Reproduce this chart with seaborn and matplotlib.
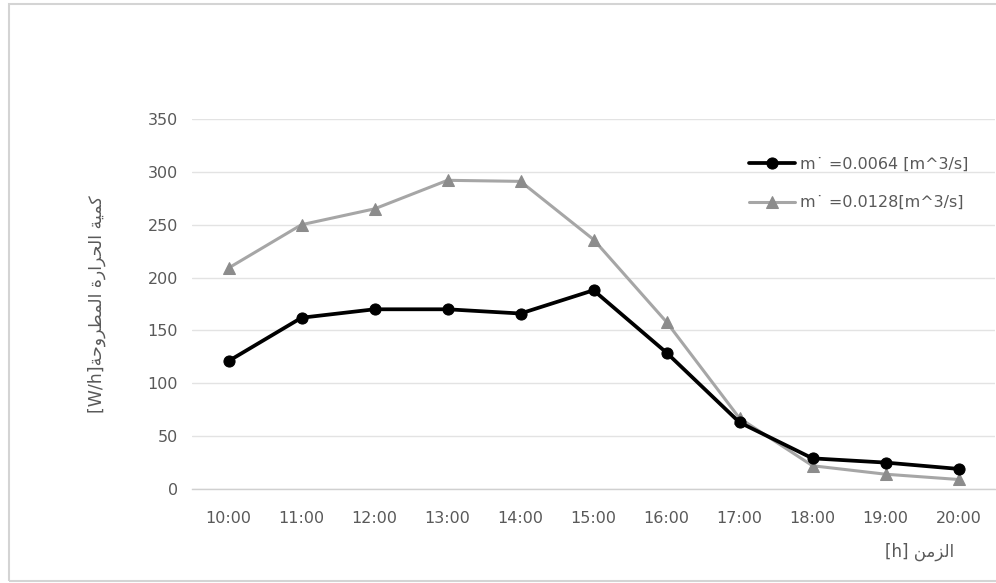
import matplotlib
matplotlib.use("Agg")
import matplotlib.pyplot as plt
import pandas as pd
import seaborn as sns
from matplotlib.patches import Rectangle

# ---- data -------------------------------------------------------------
hours = [10, 11, 12, 13, 14, 15, 16, 17, 18, 19, 20]
tick_labels = [f"{h}:00" for h in hours]
heat_low_flow = [121, 162, 170, 170, 166, 188, 129, 63, 29, 25, 19]
heat_high_flow = [209, 250, 265, 292, 291, 236, 158, 67, 22, 14, 9]
series_names = ["m\u02d9 =0.0064 [m^3/s]", "m\u02d9 =0.0128[m^3/s]"]
y_ticks = [0, 50, 100, 150, 200, 250, 300, 350]
ylabel_ar = "كمية الحرارة المطروحة"
ylabel_unit = "[W/h]"
xlabel_ar = "الزمن"
xlabel_unit = "[h]"

# ---- minimal Arabic shaping (contextual forms + right-to-left order) ---
# char: (isolated, final, initial, medial); None => does not join forward
FORMS = {
    "ك": ("\uFED9", "\uFEDA", "\uFEDB", "\uFEDC"),
    "م": ("\uFEE1", "\uFEE2", "\uFEE3", "\uFEE4"),
    "ي": ("\uFEF1", "\uFEF2", "\uFEF3", "\uFEF4"),
    "ة": ("\uFE93", "\uFE94", None, None),
    "ا": ("\uFE8D", "\uFE8E", None, None),
    "ل": ("\uFEDD", "\uFEDE", "\uFEDF", "\uFEE0"),
    "ح": ("\uFEA1", "\uFEA2", "\uFEA3", "\uFEA4"),
    "ر": ("\uFEAD", "\uFEAE", None, None),
    "ط": ("\uFEC1", "\uFEC2", "\uFEC3", "\uFEC4"),
    "و": ("\uFEED", "\uFEEE", None, None),
    "ز": ("\uFEAF", "\uFEB0", None, None),
    "ن": ("\uFEE5", "\uFEE6", "\uFEE7", "\uFEE8"),
}


def arabic_visual(text):
    out = []
    for i, ch in enumerate(text):
        if ch not in FORMS:
            out.append(ch)
            continue
        prev = text[i - 1] if i > 0 else ""
        nxt = text[i + 1] if i + 1 < len(text) else ""
        joins_prev = prev in FORMS and FORMS[prev][2] is not None
        joins_next = FORMS[ch][2] is not None and nxt in FORMS
        iso, fin, ini, med = FORMS[ch]
        if joins_prev and joins_next:
            out.append(med)
        elif joins_prev:
            out.append(fin)
        elif joins_next:
            out.append(ini)
        else:
            out.append(iso)
    return "".join(reversed(out))


# ---- figure -------------------------------------------------------------
sns.set_theme(style="white")
plt.rcParams["font.family"] = ["DejaVu Sans"]
text_color = "#595959"

fig = plt.figure(figsize=(9.96, 5.83), dpi=100)
ax = fig.add_axes([192 / 996, 1 - 489 / 583, 803 / 996, 370 / 583])

df = pd.DataFrame({"hour": hours, "low": heat_low_flow, "high": heat_high_flow})

sns.lineplot(data=df, x="hour", y="high", ax=ax, color="#a6a6a6", linewidth=2.2,
             marker="^", markersize=9, markerfacecolor="#8c8c8c",
             markeredgecolor="#8c8c8c", label=series_names[1], zorder=3)
sns.lineplot(data=df, x="hour", y="low", ax=ax, color="#000000", linewidth=2.7,
             marker="o", markersize=8, markerfacecolor="#000000",
             markeredgecolor="#000000", label=series_names[0], zorder=4)

ax.set_xlim(hours[0] - 0.5, hours[-1] + 0.5)
ax.set_ylim(0, 350)
ax.set_xticks(hours)
ax.set_xticklabels(tick_labels)
ax.set_yticks(y_ticks)
ax.tick_params(axis="both", length=0, labelsize=11.5, colors=text_color)
ax.tick_params(axis="x", pad=16)
ax.tick_params(axis="y", pad=10)

ax.grid(axis="y", color="#e3e3e3", linewidth=1.0)
ax.grid(axis="x", visible=False)
for side in ("top", "right", "left"):
    ax.spines[side].set_visible(False)
ax.spines["bottom"].set_color("#d0d0d0")
ax.spines["bottom"].set_linewidth(1.0)

ax.set_xlabel("")
ax.set_ylabel(ylabel_unit + arabic_visual(ylabel_ar), fontsize=12.5,
              color=text_color)
ax.yaxis.set_label_coords(-0.107, 0.5)

fig.text(920 / 996, 1 - 552 / 583, xlabel_unit + " " + arabic_visual(xlabel_ar),
         ha="center", va="center", fontsize=12, color=text_color)

handles, labels = ax.get_legend_handles_labels()
order = [labels.index(series_names[0]), labels.index(series_names[1])]
leg = ax.legend([handles[i] for i in order], [labels[i] for i in order],
                loc="upper left", bbox_to_anchor=(741 / 996, 1 - 149 / 583),
                bbox_transform=fig.transFigure, frameon=False, borderpad=0,
                fontsize=11.5, handlelength=2.9, handletextpad=0.3,
                labelspacing=1.45)
for t in leg.get_texts():
    t.set_color(text_color)

# outer chart border
fig.patches.append(Rectangle((9 / 996, 2 / 583), 1.2, 577 / 583,
                             transform=fig.transFigure, fill=False,
                             edgecolor="#d4d4d4", linewidth=1.5))

fig.savefig("out.png", dpi=100, facecolor="white")
